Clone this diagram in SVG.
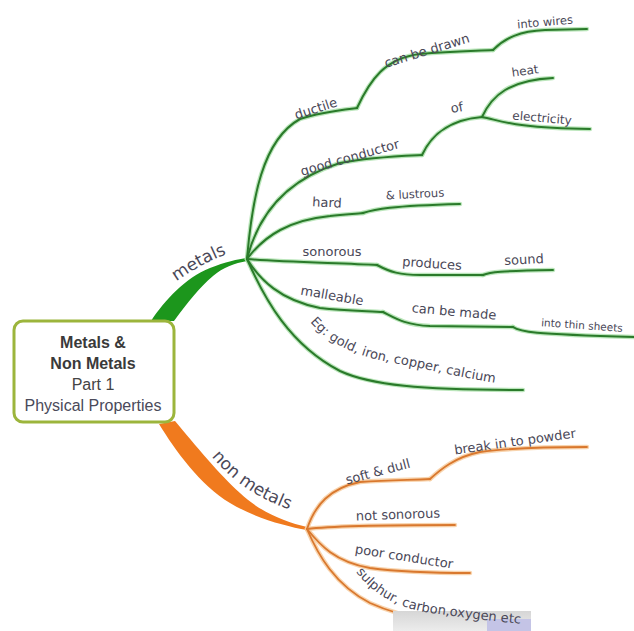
<svg xmlns="http://www.w3.org/2000/svg" width="634" height="631" viewBox="0 0 634 631">
<defs>
<style>
.g-halo{fill:none;stroke:#9edc9e;stroke-width:4.5;stroke-linecap:round;opacity:0.7}
.g{fill:none;stroke:#2a7a2a;stroke-width:2;stroke-linecap:round}
.o-halo{fill:none;stroke:#f6c99a;stroke-width:4.5;stroke-linecap:round;opacity:0.8}
.o{fill:none;stroke:#d9782e;stroke-width:1.8;stroke-linecap:round}
.lbl{font-family:"DejaVu Sans","Liberation Sans",sans-serif;font-size:13px;fill:#4a4858;text-anchor:middle}
.lbl-s{font-family:"DejaVu Sans","Liberation Sans",sans-serif;font-size:13px;fill:#4a4858;text-anchor:start}
.big{font-family:"DejaVu Sans","Liberation Sans",sans-serif;font-size:17px;fill:#4a4858;text-anchor:middle}
.title{font-family:"Liberation Sans",Arial,sans-serif;font-size:16px;text-anchor:middle}
</style>
<linearGradient id="hl" x1="0" y1="0" x2="0" y2="1">
<stop offset="0" stop-color="#d6d6d6"/>
<stop offset="1" stop-color="#ececec"/>
</linearGradient>
<path id="tp-metals" d="M 170 286 C 190 271 208 261 234 251"/>
<path id="tp-non" d="M 203 446 C 225 475 252 498 302 514"/>
<path id="tp-eg" d="M 310 322 C 330 345 360 358 400 364 C 440 372 480 382 520 386"/>
<path id="tp-sul" d="M 356 572 C 372 592 392 606 425 612 C 465 618 500 622 545 626"/>
</defs>
<rect width="634" height="631" fill="#ffffff"/>

<g id="connectors">
<path d="M 151 321 C 165 300 185 278 210 268 C 225 262 238 259 247 258 L 247 261 C 235 263 222 268 213 276 C 200 287 188 302 174 321 Z" fill="#1c961c"/>
<path d="M 159 424 C 175 450 200 485 230 503 C 255 518 285 526 307 530 L 307 527 C 285 522 260 512 240 493 C 220 475 195 445 175 421 Z" fill="#f07a1e"/>
<g id="green-halo">
<path class="g-halo" d="M 247 259 C 252 200 262 140 300 119 C 320 112 340 110 357 108"/>
<path class="g-halo" d="M 357 108 C 370 80 385 58 420 54 C 450 51 470 51 493 50"/>
<path class="g-halo" d="M 493 50 C 505 38 520 31 545 30 L 587 29"/>
<path class="g-halo" d="M 247 259 C 258 215 285 180 340 163 C 370 157 400 156 422 155"/>
<path class="g-halo" d="M 422 155 C 430 138 445 120 482 117"/>
<path class="g-halo" d="M 482 117 C 492 95 510 80 553 78"/>
<path class="g-halo" d="M 482 117 C 500 120 510 128 590 129"/>
<path class="g-halo" d="M 247 259 C 265 235 290 220 330 216 C 345 214 355 214 363 213"/>
<path class="g-halo" d="M 363 213 C 375 209 390 206 460 204"/>
<path class="g-halo" d="M 247 259 C 280 262 340 263 377 265"/>
<path class="g-halo" d="M 377 265 C 390 272 400 275 420 275 L 483 275"/>
<path class="g-halo" d="M 483 275 C 490 272 500 271 553 270"/>
<path class="g-halo" d="M 247 259 C 260 280 280 300 320 308 C 345 311 370 311 383 312"/>
<path class="g-halo" d="M 383 312 C 395 318 405 325 430 326 L 513 327"/>
<path class="g-halo" d="M 513 327 C 520 332 530 334 634 337"/>
<path class="g-halo" d="M 247 259 C 265 300 290 345 340 371 C 370 385 420 390 523 390"/>
</g>
<g id="green-lines">
<path class="g" d="M 247 259 C 252 200 262 140 300 119 C 320 112 340 110 357 108"/>
<path class="g" d="M 357 108 C 370 80 385 58 420 54 C 450 51 470 51 493 50"/>
<path class="g" d="M 493 50 C 505 38 520 31 545 30 L 587 29"/>
<path class="g" d="M 247 259 C 258 215 285 180 340 163 C 370 157 400 156 422 155"/>
<path class="g" d="M 422 155 C 430 138 445 120 482 117"/>
<path class="g" d="M 482 117 C 492 95 510 80 553 78"/>
<path class="g" d="M 482 117 C 500 120 510 128 590 129"/>
<path class="g" d="M 247 259 C 265 235 290 220 330 216 C 345 214 355 214 363 213"/>
<path class="g" d="M 363 213 C 375 209 390 206 460 204"/>
<path class="g" d="M 247 259 C 280 262 340 263 377 265"/>
<path class="g" d="M 377 265 C 390 272 400 275 420 275 L 483 275"/>
<path class="g" d="M 483 275 C 490 272 500 271 553 270"/>
<path class="g" d="M 247 259 C 260 280 280 300 320 308 C 345 311 370 311 383 312"/>
<path class="g" d="M 383 312 C 395 318 405 325 430 326 L 513 327"/>
<path class="g" d="M 513 327 C 520 332 530 334 634 337"/>
<path class="g" d="M 247 259 C 265 300 290 345 340 371 C 370 385 420 390 523 390"/>
</g>
<g id="orange-lines">
<path class="o-halo" d="M 307 529 C 315 505 330 488 360 482 C 390 480 410 480 430 479"/>
<path class="o-halo" d="M 430 479 C 440 470 455 457 480 452 C 510 448 550 447 587 447"/>
<path class="o-halo" d="M 307 529 C 330 526 400 525 455 525"/>
<path class="o-halo" d="M 307 529 C 320 545 335 562 370 568 C 400 572 440 573 470 573"/>
<path class="o-halo" d="M 307 529 C 318 555 335 585 370 603 C 390 612 405 616 425 619"/>
<path class="o" d="M 307 529 C 315 505 330 488 360 482 C 390 480 410 480 430 479"/>
<path class="o" d="M 430 479 C 440 470 455 457 480 452 C 510 448 550 447 587 447"/>
<path class="o" d="M 307 529 C 330 526 400 525 455 525"/>
<path class="o" d="M 307 529 C 320 545 335 562 370 568 C 400 572 440 573 470 573"/>
<path class="o" d="M 307 529 C 318 555 335 585 370 603 C 390 612 405 616 425 619"/>
</g>
</g>

<g id="highlight">
<rect x="393" y="611" width="138" height="20" fill="url(#hl)"/>
<rect x="487" y="619" width="44" height="12" fill="#c4c4e6"/>
</g>

<g id="center">
<rect x="14" y="321" width="160" height="101" rx="9" ry="9" fill="#ffffff" stroke="#9cb53c" stroke-width="3"/>
<text class="title" x="93" y="348" font-weight="bold" fill="#3a3a3a">Metals &amp;</text>
<text class="title" x="93" y="369" font-weight="bold" fill="#3a3a3a">Non Metals</text>
<text class="title" x="93" y="390" fill="#444444">Part 1</text>
<text class="title" x="93" y="411" fill="#4a4a5a">Physical Properties</text>
</g>

<g id="metals"><text class="big"><textPath href="#tp-metals" startOffset="50%">metals</textPath></text></g>
<g id="ductile"><text class="lbl" transform="translate(316,109) rotate(-18)" y="4">ductile</text></g>
<g id="can-be-drawn"><text class="lbl" transform="translate(427,51) rotate(-17)" y="4">can be drawn</text></g>
<g id="into-wires"><text class="lbl" transform="translate(545,22) rotate(-5)" y="4" style="font-size:11.5px">into wires</text></g>
<g id="good-conductor"><text class="lbl" transform="translate(350,158) rotate(-16)" y="4">good conductor</text></g>
<g id="of"><text class="lbl" transform="translate(457,108) rotate(-10)" y="4">of</text></g>
<g id="heat"><text class="lbl" transform="translate(525,71) rotate(-8)" y="4" style="font-size:12px">heat</text></g>
<g id="electricity"><text class="lbl" transform="translate(542,118) rotate(5)" y="4" style="font-size:12px">electricity</text></g>
<g id="hard"><text class="lbl" transform="translate(327,203) rotate(3)" y="4">hard</text></g>
<g id="lustrous"><text class="lbl" transform="translate(415,194) rotate(-3)" y="4" style="font-size:11.5px">&amp; lustrous</text></g>
<g id="sonorous"><text class="lbl" transform="translate(332,252)" y="4">sonorous</text></g>
<g id="produces"><text class="lbl" transform="translate(432,264) rotate(4)" y="4">produces</text></g>
<g id="sound"><text class="lbl" transform="translate(524,260) rotate(-3)" y="4">sound</text></g>
<g id="malleable"><text class="lbl" transform="translate(332,296) rotate(10)" y="4">malleable</text></g>
<g id="can-be-made"><text class="lbl" transform="translate(454,312) rotate(5)" y="4">can be made</text></g>
<g id="thin-sheets"><text class="lbl" transform="translate(582,325) rotate(4)" y="4" style="font-size:10.5px">into thin sheets</text></g>
<g id="eg"><text class="lbl-s"><textPath href="#tp-eg" startOffset="0">Eg: gold, iron, copper, calcium</textPath></text></g>

<g id="non-metals"><text class="big"><textPath href="#tp-non" startOffset="50%">non metals</textPath></text></g>
<g id="soft-dull"><text class="lbl" transform="translate(378,472) rotate(-15)" y="4">soft &amp; dull</text></g>
<g id="break-powder"><text class="lbl" transform="translate(515,442) rotate(-8)" y="4">break in to powder</text></g>
<g id="not-sonorous"><text class="lbl" transform="translate(398,515) rotate(-2)" y="4">not sonorous</text></g>
<g id="poor-conductor"><text class="lbl" transform="translate(404,557) rotate(9)" y="4">poor conductor</text></g>
<g id="sulphur"><text class="lbl-s"><textPath href="#tp-sul" startOffset="0">sulphur, carbon,oxygen etc</textPath></text></g>
</svg>
